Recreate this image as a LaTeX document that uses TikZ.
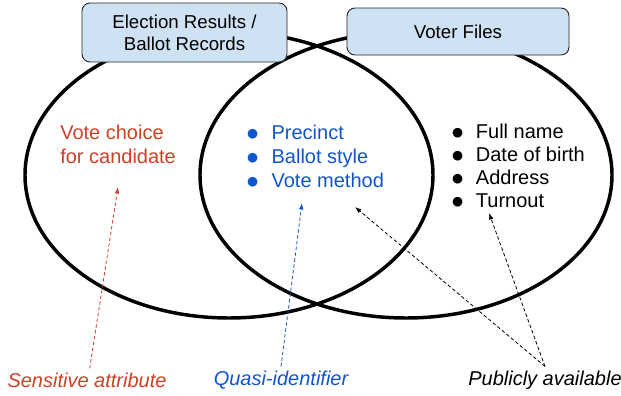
\documentclass[tikz,border=0pt]{standalone}
\usepackage{fontspec}
\setmainfont{Liberation Sans}
\newfontfamily\dotfont{DejaVu Sans}
\usepackage{tikz}
\usetikzlibrary{arrows.meta}

\definecolor{boxblue}{HTML}{CFE2F3}
\definecolor{sensred}{HTML}{CC4125}
\definecolor{quasiblue}{HTML}{1155CC}

\newcommand{\listdot}{\makebox[5.25pt]{\raisebox{1.4pt}{\dotfont\fontsize{9.5}{10}\selectfont ●}}}

\tikzset{
    setline/.style={line width=2.6pt},
    titlebox/.style={draw=black!85, fill=boxblue, rounded corners=6pt, line width=0.7pt, align=center, inner sep=0pt, font=\fontsize{14}{16.5}\selectfont},
    bodytext/.style={align=left, inner sep=0pt, font=\fontsize{15}{18}\selectfont},
    tagtext/.style={font=\fontsize{15}{18}\selectfont\itshape, inner sep=3pt},
    pointer/.style={dash pattern=on 2.6pt off 1.8pt, line width=0.6pt, -{Latex[length=1.7mm, width=1.2mm]}}
}

\begin{document}
\begin{tikzpicture}[x=0.75pt, y=-0.75pt]
            \useasboundingbox (0,0) rectangle (621,396);

            % the two record sets
            \draw[setline] (229,175) ellipse [x radius=153pt, y radius=107.25pt];
            \draw[setline] (406,175) ellipse [x radius=154.5pt, y radius=107.25pt];

            \node[titlebox, minimum width=153.75pt, minimum height=44.25pt] (elec) at (184.5,32.5) {Election Results /\\ Ballot Records};
            \node[titlebox, minimum width=166.5pt, minimum height=35.25pt] (voter) at (458,31.5) {Voter Files};

            \node[bodytext, text=sensred, anchor=west] (choice) at (60,144) {Vote choice\\ for candidate};
            \node[bodytext, text=quasiblue, anchor=west] (quasi) at (249,156) {\listdot\hspace{11.5pt}Precinct\\ \listdot\hspace{11.5pt}Ballot style\\ \listdot\hspace{11.5pt}Vote method};
            \node[bodytext, font=\fontsize{15}{17.25}\selectfont, anchor=west] (public) at (454,165.5) {\listdot\hspace{11pt}Full name\\ \listdot\hspace{11pt}Date of birth\\ \listdot\hspace{11pt}Address\\ \listdot\hspace{11pt}Turnout};

            % labels at the bottom
            \node[tagtext, text=sensred] (sens) at (87,380) {Sensitive attribute};
            \node[tagtext, text=quasiblue] (qid) at (281,380) {Quasi-identifier};
            \node[tagtext] (avail) at (545,380) {Publicly available};

            \coordinate (choiceTip) at (118,187);
            \coordinate (quasiTip) at (302,203);
            \coordinate (methodTip) at (355,207);
            \coordinate (turnoutTip) at (489,213);

            \draw[pointer, sensred] ([xshift=2pt]sens.north) -- (choiceTip);
            \draw[pointer, quasiblue] (qid.north) -- (quasiTip);
            \draw[pointer] (avail.north) -- (methodTip);
            \draw[pointer] (avail.north) -- (turnoutTip);
        \end{tikzpicture}
\end{document}
